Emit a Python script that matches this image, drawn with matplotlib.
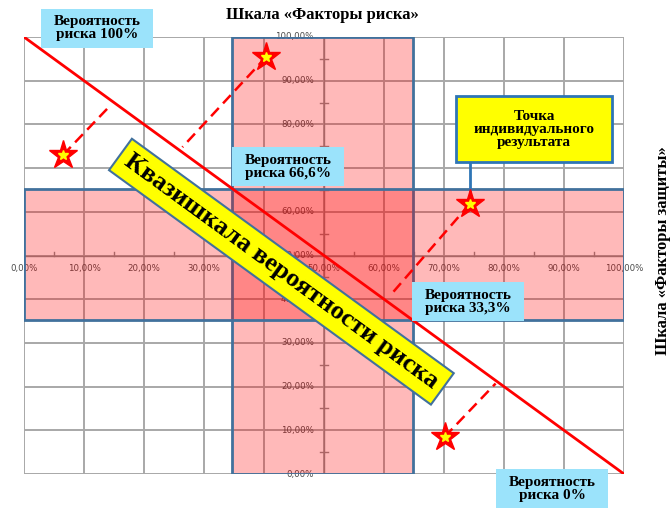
import numpy as np
import matplotlib
matplotlib.use('Agg')
import matplotlib.pyplot as plt
from matplotlib.patches import Rectangle

# scale ticks (percent)
TICKS = list(range(0, 101, 10))
MINOR_TICKS = list(range(5, 100, 10))
TICK_LABELS = [f'{t},00%' for t in TICKS]

# risk zone bands (percent)
ZONE_X = (34.7, 64.8)
ZONE_Y = (35.2, 65.3)

# individual result points and their projections onto the quasi-scale
STAR_X = [6.5, 40.4, 74.3, 70.1]
STAR_Y = [73.0, 95.5, 61.8, 8.5]
FOOT_X = [14.3, 26.4, 61.0, 78.6]
FOOT_Y = [84.2, 74.8, 40.8, 20.7]

PROB_LABELS = ['Вероятность\nриска 100%', 'Вероятность\nриска 66,6%',
               'Вероятность\nриска 33,3%', 'Вероятность\nриска 0%']

SERIF = 'Liberation Serif'
BLUE_EDGE = '#41719c'
LIGHT_BLUE = '#9be3fb'

fig = plt.figure(figsize=(6.7, 5.08), dpi=100)
ax = fig.add_axes([24 / 670, 34 / 508, 600 / 670, 437 / 508])
ax.set_xlim(0, 100)
ax.set_ylim(0, 100)
ax.axis('off')

# grid
for t in TICKS:
    ax.plot([t, t], [0, 100], color='#a8a8a8', lw=1.4, zorder=1)
    ax.plot([0, 100], [t, t], color='#a8a8a8', lw=1.4, zorder=1)

# central axes with minor ticks
ax.plot([0, 100], [50, 50], color='#8c8c8c', lw=1, zorder=1.2)
ax.plot([50, 50], [0, 100], color='#8c8c8c', lw=1, zorder=1.2)
for t in MINOR_TICKS:
    ax.plot([t, t], [50, 50.9], color='#8c8c8c', lw=1, zorder=1.2)
    ax.plot([49.4, 50.6], [t, t], color='#8c8c8c', lw=1, zorder=1.2)

for t, lab in zip(TICKS, TICK_LABELS):
    ax.text(t, 47.1, lab, ha='center', va='center', fontsize=6.2,
            color='#4a4a4a', zorder=1.5)
    # the 70% label sits under the "66,6%" box in the original, so it is not drawn
    if t != 70:
        ax.text(48.3, t, lab, ha='right', va='center', fontsize=6.2,
                color='#4a4a4a', zorder=1.5)

# risk zones
ax.add_patch(Rectangle((ZONE_X[0], 0), ZONE_X[1] - ZONE_X[0], 100,
                       facecolor=(1, 0, 0, 0.275), edgecolor=BLUE_EDGE, lw=2, zorder=2))
ax.add_patch(Rectangle((0, ZONE_Y[0]), 100, ZONE_Y[1] - ZONE_Y[0],
                       facecolor=(1, 0, 0, 0.275), edgecolor=BLUE_EDGE, lw=2, zorder=2))

# quasi-scale line
ax.plot([0, 100], [100, 0], color='#ff0000', lw=2, zorder=3)

# projections and points
for sx, sy, fx, fy in zip(STAR_X, STAR_Y, FOOT_X, FOOT_Y):
    ax.plot([sx, fx], [sy, fy], color='#ff0000', lw=1.8, dashes=(4.5, 2.5), zorder=3)
ax.plot(STAR_X, STAR_Y, linestyle='none', marker='*', ms=21,
        mfc='#ff0000', mec='#ff0000', zorder=5)
ax.plot(STAR_X, STAR_Y, linestyle='none', marker='*', ms=7,
        mfc='#ffff00', mec='#ffff00', zorder=6)

# callout for individual result
ax.plot([STAR_X[2], STAR_X[2]], [STAR_Y[2] + 2, 71.4], color='#2e75b6', lw=2, zorder=4)
ax.add_patch(Rectangle((72.0, 71.4), 26.0, 15.1, facecolor='#ffff00',
                       edgecolor='#2e75b6', lw=2, zorder=6, clip_on=False))
ax.text(85.0, 78.9, 'Точка\nиндивидуального\nрезультата', ha='center', va='center',
        fontsize=11, fontweight='bold', family=SERIF, linespacing=1.0, zorder=7)

# probability labels
box_pos = [(2.83, 97.5), (34.67, 65.9), (64.67, 35.0), (78.67, -7.8)]
for (bx, by), lab in zip(box_pos, PROB_LABELS):
    ax.add_patch(Rectangle((bx, by), 18.67, 8.9, facecolor=LIGHT_BLUE,
                           edgecolor='none', zorder=6, clip_on=False))
    ax.text(bx + 9.33, by + 4.45, lab, ha='center', va='center', fontsize=11,
            fontweight='bold', family=SERIF, linespacing=1.0, zorder=7)

# rotated quasi-scale label
angle = -np.degrees(np.arctan2(437, 600))
ax.text(42.9, 46.3, 'Квазишкала вероятности риска', rotation=angle,
        rotation_mode='anchor', ha='center', va='center', fontsize=19,
        fontweight='bold', family=SERIF, zorder=8,
        bbox=dict(boxstyle='square,pad=0.3', facecolor='#ffff00',
                  edgecolor=BLUE_EDGE, lw=1.5))

fig.text(322 / 670, 1 - 15 / 508, 'Шкала «Факторы риска»', ha='center', va='center',
         fontsize=12, fontweight='bold', family=SERIF)
fig.text(663 / 670, 1 - 251 / 508, 'Шкала «Факторы защиты»', ha='center', va='center',
         rotation=90, fontsize=12, fontweight='bold', family=SERIF)

fig.savefig('out.png', dpi=100)
